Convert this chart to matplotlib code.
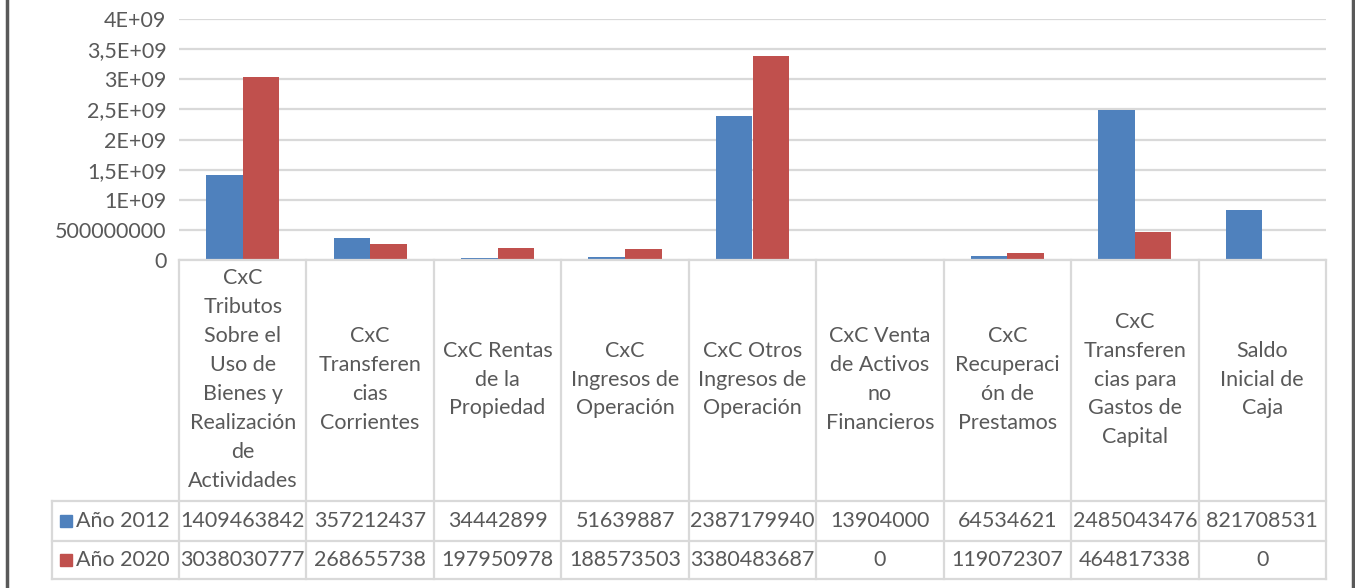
import matplotlib.pyplot as plt
import matplotlib.transforms as mtransforms
from matplotlib.lines import Line2D
from matplotlib.patches import Rectangle
import numpy as np

categories = [
    "CxC\nTributos\nSobre el\nUso de\nBienes y\nRealización\nde\nActividades",
    "CxC\nTransferen\ncias\nCorrientes",
    "CxC Rentas\nde la\nPropiedad",
    "CxC\nIngresos de\nOperación",
    "CxC Otros\nIngresos de\nOperación",
    "CxC Venta\nde Activos\nno\nFinancieros",
    "CxC\nRecuperaci\nón de\nPrestamos",
    "CxC\nTransferen\ncias para\nGastos de\nCapital",
    "Saldo\nInicial de\nCaja",
]
series_names = ["Año 2012", "Año 2020"]
v2012 = [1409463842, 357212437, 34442899, 51639887, 2387179940,
         13904000, 64534621, 2485043476, 821708531]
v2020 = [3038030777, 268655738, 197950978, 188573503, 3380483687,
         0, 119072307, 464817338, 0]
yticks = [0, 5e8, 1e9, 1.5e9, 2e9, 2.5e9, 3e9, 3.5e9, 4e9]
ytick_labels = ["0", "500000000", "1E+09", "1,5E+09", "2E+09",
                "2,5E+09", "3E+09", "3,5E+09", "4E+09"]

blue = "#4F81BD"
red = "#C0504D"
grid = "#D9D9D9"
txt = "#595959"
W, H = 1355, 588
plt.rcParams['font.family'] = ['Lato', 'DejaVu Sans']
fs = 15.5

fig = plt.figure(figsize=(W / 100, H / 100), dpi=100)


def fx(px):
    return px / W


def fy(py):
    return 1 - py / H


left, right, top, bottom = 179, 1326, 19, 260
ax = fig.add_axes([fx(left), fy(bottom), fx(right) - fx(left), fy(top) - fy(bottom)])
x = np.arange(len(categories))
w = 0.287
ax.bar(x - w / 2, v2012, w, color=blue, zorder=3)
ax.bar(x + w / 2, v2020, w, color=red, zorder=3)
ax.set_xlim(-0.5, len(categories) - 0.5)
ax.set_ylim(0, 4e9)
ax.set_yticks(yticks)
ax.set_yticklabels(ytick_labels, fontsize=fs, color=txt)
ax.tick_params(axis='y', length=0, pad=9)
ax.set_xticks([])
for s in ax.spines.values():
    s.set_visible(False)
ax.yaxis.grid(True, color=grid, lw=1.6, zorder=0)
ax.set_axisbelow(True)

# data table lines
row_top, row_mid, row_bot = 501, 541, 579
tleft = 52
col_w = (right - left) / len(categories)
def hline(py, x0, x1):
    fig.add_artist(Line2D([fx(x0), fx(x1)], [fy(py), fy(py)], color=grid, lw=1.6))
def vline(px, y0, y1):
    fig.add_artist(Line2D([fx(px), fx(px)], [fy(y0), fy(y1)], color=grid, lw=1.6))

hline(bottom, left, right)
for py in (row_top, row_mid, row_bot):
    hline(py, tleft, right)
vline(tleft, row_top, row_bot)
for i in range(len(categories) + 1):
    vline(left + i * col_w, bottom, row_bot)

blend = mtransforms.blended_transform_factory(ax.transData, fig.transFigure)
for i, c in enumerate(categories):
    ax.text(i, fy((bottom + row_top) / 2 - 1), c, transform=blend, ha='center',
            va='center', fontsize=fs, color=txt, linespacing=1.56, clip_on=False)
    ax.text(i, fy((row_top + row_mid) / 2), str(v2012[i]), transform=blend,
            ha='center', va='center', fontsize=fs, color=txt, clip_on=False)
    ax.text(i, fy((row_mid + row_bot) / 2), str(v2020[i]), transform=blend,
            ha='center', va='center', fontsize=fs, color=txt, clip_on=False)

for name, col, y0, y1 in ((series_names[0], blue, row_top, row_mid),
                          (series_names[1], red, row_mid, row_bot)):
    yc = (y0 + y1) / 2
    fig.add_artist(Rectangle((fx(60), fy(yc + 6)), fx(12), 12 / H, color=col))
    fig.text(fx(76), fy(yc), name, ha='left', va='center', fontsize=fs, color=txt)

# outer frame sides
fig.add_artist(Line2D([fx(6.5), fx(6.5)], [0, 1], color="#595959", lw=2.5))
fig.add_artist(Line2D([fx(1352.5), fx(1352.5)], [0, 1], color="#595959", lw=2.5))

fig.savefig("out.png", dpi=100)
